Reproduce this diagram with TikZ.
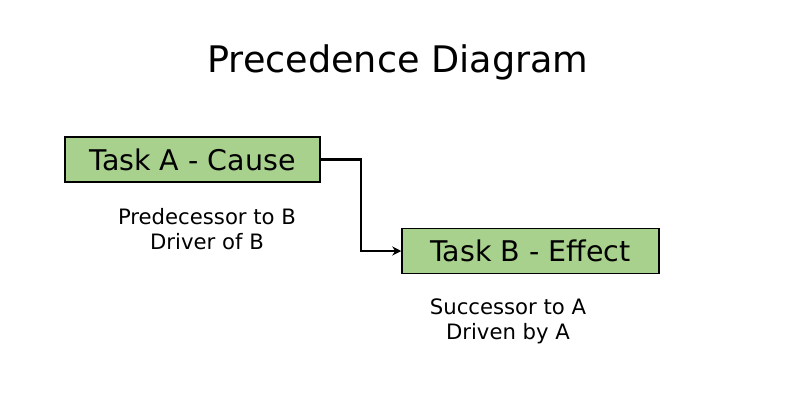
\documentclass[tikz,border=0pt]{standalone}
\usepackage{fontspec}
\setmainfont{DejaVu Sans}
\usetikzlibrary{arrows.meta,calc}
\definecolor{taskgreen}{HTML}{A9D18E}
\tikzset{
    task box/.style={
        draw=black, line width=1.5pt, fill=taskgreen,
        minimum width=255pt, minimum height=45pt, inner sep=0pt,
        font=\fontsize{28.5}{32}\selectfont
    },
    role label/.style={
        align=center, font=\fontsize{21.2}{25}\selectfont
    },
    link/.style={
        line width=2.5pt, -{Stealth[length=9pt,width=9pt]}
    }
}
\begin{document}
\begin{tikzpicture}[x=1pt,y=-1pt]
    \useasboundingbox (0,0) rectangle (786,413);
    \node (title) at (398,62) {\fontsize{36.6}{40}\selectfont Precedence Diagram};

    \node[task box] (taskA) at (192.5,159.5) {Task A - Cause};
    \node[task box, minimum width=257pt] (taskB) at (530.5,251) {Task B - Effect};

    \node[role label] (predA) at (207,229) {Predecessor to B\\Driver of B};
    \node[role label] (succB) at (508,321) {Successor to A\\Driven by A};

    \coordinate (bend) at (361,159.5);
    \draw[link] (taskA.east) -- (bend) |- (taskB.west);
\end{tikzpicture}
\end{document}
